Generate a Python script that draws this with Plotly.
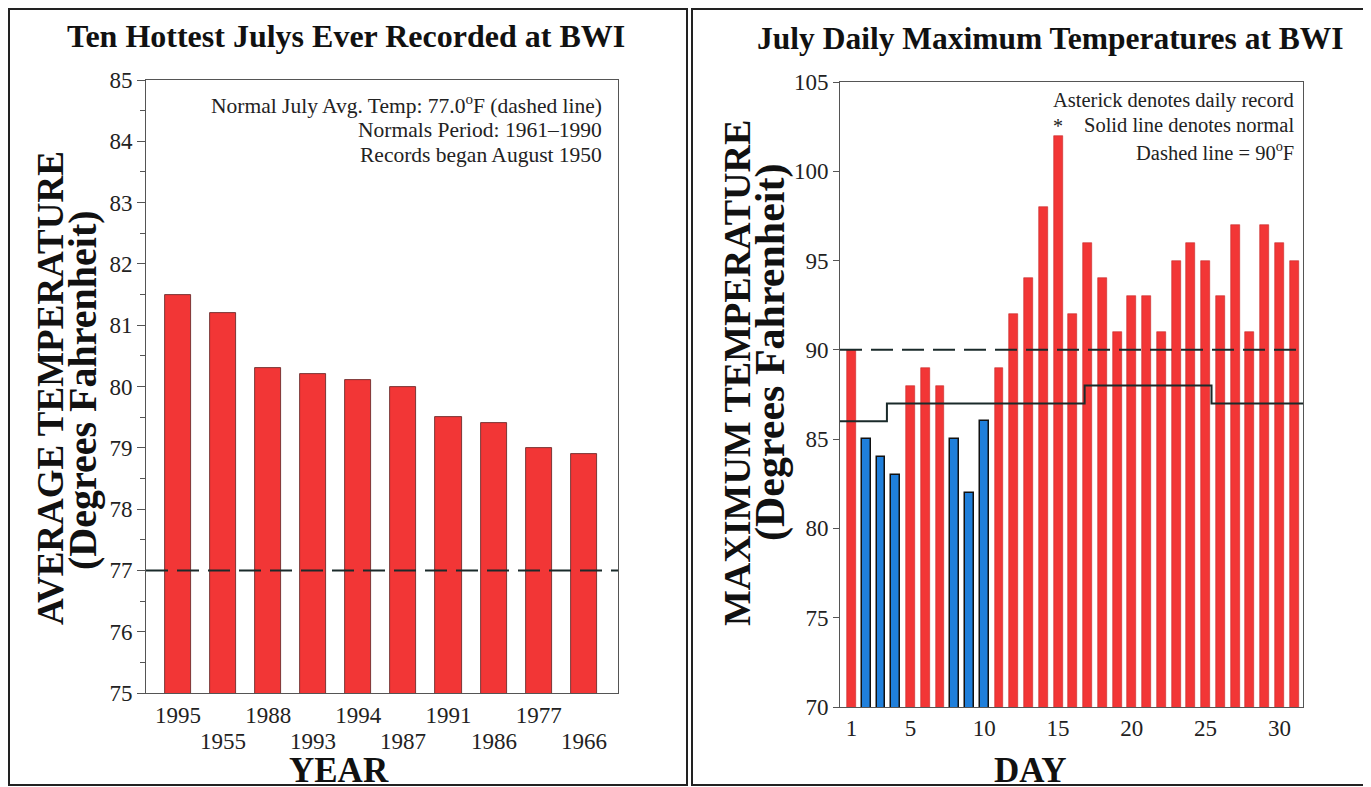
import plotly.graph_objects as go

W, H = 1371, 787
OFF = 8  # page body margin offset
FONT = "Liberation Serif, Times New Roman, serif"

# ---- data: left chart ----
years = ["1995", "1955", "1988", "1993", "1994", "1987", "1991", "1986", "1977", "1966"]
avg_temp = [81.5, 81.2, 80.3, 80.2, 80.1, 80.0, 79.5, 79.4, 79.0, 78.9]
normal_july_avg = 77.0

# ---- data: right chart ----
days = list(range(1, 32))
day_max = [90, 85, 84, 83, 88, 89, 88, 85, 82, 86, 89, 92, 94, 98, 102, 92,
           96, 94, 91, 93, 93, 91, 95, 96, 95, 93, 97, 91, 97, 96, 95]
normal_x = [0.22, 3.4, 16.8, 25.4, 31.6]
normal_y = [86, 87, 88, 87, 87]
record_days = [15]
hot_line = 90
day_ticks = [1, 5, 10, 15, 20, 25, 30]

RED = "#f23636"
BLUE = "#1f7fdb"


def normal_at(d):
    val = normal_y[0]
    for xb, yb in zip(normal_x, normal_y):
        if d >= xb:
            val = yb
    return val


bar_colors = [BLUE if t < normal_at(d) else RED for d, t in zip(days, day_max)]
line_colors = ["#111111" if c == BLUE else "#c82828" for c in bar_colors]
line_widths = [1.5 if c == BLUE else 0.6 for c in bar_colors]


def px(x):
    return (x - OFF) / W


def py(y):
    return 1 - (y - OFF) / H


fig = go.Figure()

fig.add_trace(go.Bar(
    x=list(range(len(years))), y=avg_temp,
    marker=dict(color=RED, line=dict(color="#5a2020", width=0.8)),
    width=0.58, xaxis="x", yaxis="y", showlegend=False,
))

fig.add_trace(go.Bar(
    x=days, y=day_max,
    marker=dict(color=bar_colors, line=dict(color=line_colors, width=line_widths)),
    width=0.6, xaxis="x2", yaxis="y2", showlegend=False,
))

fig.add_trace(go.Scatter(
    x=normal_x, y=normal_y, mode="lines", line=dict(color="#1a2a2a", width=2, shape="hv"),
    xaxis="x2", yaxis="y2", showlegend=False, hoverinfo="skip",
))

row1_idx = [i for i in range(len(years)) if i % 2 == 0]
row2_idx = [i for i in range(len(years)) if i % 2 == 1]

axis_common = dict(showgrid=False, zeroline=False, showline=True, mirror=True,
                   linecolor="#555555", linewidth=1, automargin=False,
                   tickfont=dict(family=FONT, size=23, color="#222222"))

fig.update_layout(
    width=W, height=H,
    margin=dict(l=0, r=0, t=0, b=0, autoexpand=False),
    paper_bgcolor="white", plot_bgcolor="white",
    bargap=0,
    xaxis=dict(domain=[px(146), px(618)], range=[-0.71, 9.76],
               tickvals=row1_idx, ticktext=[years[i] for i in row1_idx],
               tickangle=0, ticks="", ticklabelstandoff=1, anchor="y", **axis_common),
    yaxis=dict(domain=[py(693), py(80)], range=[75, 85], dtick=1,
               ticks="outside", ticklen=8, tickcolor="#555555",
               minor=dict(dtick=0.5, ticks="outside", ticklen=5, tickcolor="#555555"),
               anchor="x", **axis_common),
    xaxis2=dict(domain=[px(840), px(1303)], range=[0.22, 31.6],
                tickvals=day_ticks, tickangle=0, ticks="", anchor="y2", **axis_common),
    yaxis2=dict(domain=[py(707), py(82)], range=[70, 105], dtick=5,
                ticks="outside", ticklen=6, tickcolor="#555555",
                anchor="x2", **axis_common),
)

# reference lines
fig.add_shape(type="line", xref="x domain", yref="y", x0=0, x1=1,
              y0=normal_july_avg, y1=normal_july_avg,
              line=dict(color="#1a2a2a", width=2, dash="22px,9px"))
fig.add_shape(type="line", xref="x2 domain", yref="y2", x0=0, x1=1,
              y0=hot_line, y1=hot_line,
              line=dict(color="#1a2a2a", width=2, dash="22px,9px"))

# panel frames
fig.add_shape(type="rect", xref="paper", yref="paper", x0=px(9), x1=px(687),
              y0=py(785), y1=py(9), line=dict(color="#222222", width=2), layer="below")
fig.add_shape(type="rect", xref="paper", yref="paper", x0=px(692), x1=px(1366),
              y0=py(785), y1=py(9), line=dict(color="#222222", width=2), layer="below")

ann = []
# titles
ann.append(dict(text="<b>Ten Hottest Julys Ever Recorded at BWI</b>", x=px(346), y=py(36),
                font=dict(size=32, color="#111111")))
ann.append(dict(text="<b>July Daily Maximum Temperatures at BWI</b>", x=px(1050), y=py(38),
                font=dict(size=31.5, color="#111111")))
# axis titles
ann.append(dict(text="<b>AVERAGE TEMPERATURE</b>", x=px(50), y=py(388), textangle=-90,
                font=dict(size=37, color="#111111")))
ann.append(dict(text="<b>(Degrees Fahrenheit)</b>", x=px(82), y=py(390), textangle=-90,
                font=dict(size=40, color="#111111")))
ann.append(dict(text="<b>MAXIMUM TEMPERATURE</b>", x=px(737), y=py(373), textangle=-90,
                font=dict(size=38, color="#111111")))
ann.append(dict(text="<b>(Degrees Fahrenheit)</b>", x=px(770), y=py(352), textangle=-90,
                font=dict(size=42, color="#111111")))
ann.append(dict(text="<b>YEAR</b>", x=px(339), y=py(770), font=dict(size=35, color="#111111")))
ann.append(dict(text="<b>DAY</b>", x=px(1030), y=py(770), font=dict(size=35, color="#111111")))

# notes
left_notes = ["Normal July Avg. Temp: 77.0<sup>o</sup>F (dashed line)",
              "Normals Period: 1961\u20131990",
              "Records began August 1950"]
for i, t in enumerate(left_notes):
    ann.append(dict(text=t, x=px(604), y=py(104 + 25.5 * i), xanchor="right",
                    font=dict(size=21.5, color="#222222")))
right_notes = ["Asterick denotes daily record",
               "Solid line denotes normal",
               "Dashed line = 90<sup>o</sup>F"]
for i, t in enumerate(right_notes):
    ann.append(dict(text=t, x=px(1296), y=py(100 + 25.5 * i), xanchor="right",
                    font=dict(size=20.5, color="#222222")))

for a in ann:
    a.setdefault("xref", "paper")
    a.setdefault("yref", "paper")
    a.setdefault("showarrow", False)
    a.setdefault("xanchor", "center")
    a.setdefault("yanchor", "middle")
    a["font"]["family"] = FONT
    fig.add_annotation(**a)

# second row of staggered year labels
for i in row2_idx:
    fig.add_annotation(x=i, y=py(741), xref="x", yref="paper", text=years[i],
                       showarrow=False, xanchor="center", yanchor="middle",
                       font=dict(family=FONT, size=23, color="#222222"))

# record asterisks
for d in record_days:
    fig.add_annotation(x=d, y=day_max[d - 1], xref="x2", yref="y2", text="*",
                       showarrow=False, yanchor="bottom", yshift=-3,
                       font=dict(family=FONT, size=20, color="#222222"))

fig.write_html("out.html")
